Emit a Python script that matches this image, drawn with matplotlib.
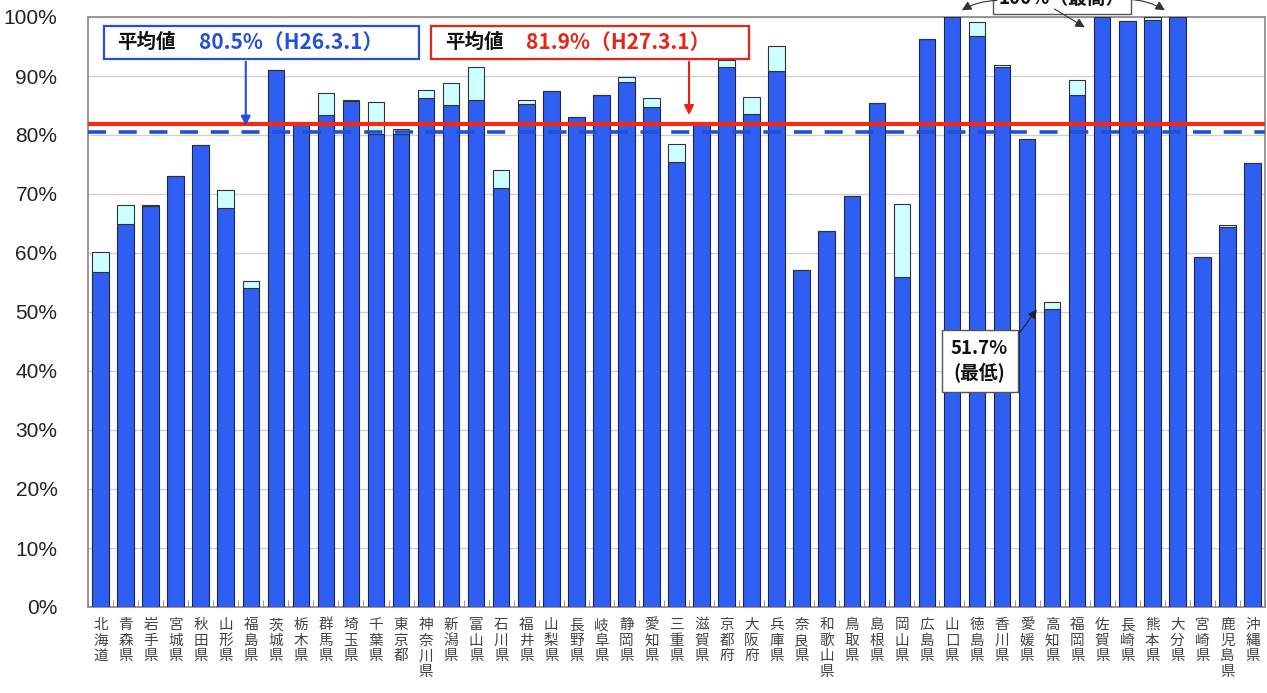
import matplotlib
matplotlib.use("Agg")
import matplotlib.pyplot as plt
from matplotlib.patches import Rectangle
from matplotlib.ticker import MultipleLocator, FixedLocator, PercentFormatter
import numpy as np

plt.rcParams['font.family'] = ['Liberation Sans', 'Noto Sans CJK JP', 'DejaVu Sans']

prefectures = ["北海道", "青森県", "岩手県", "宮城県", "秋田県", "山形県", "福島県", "茨城県",
               "栃木県", "群馬県", "埼玉県", "千葉県", "東京都", "神奈川県", "新潟県", "富山県",
               "石川県", "福井県", "山梨県", "長野県", "岐阜県", "静岡県", "愛知県", "三重県",
               "滋賀県", "京都府", "大阪府", "兵庫県", "奈良県", "和歌山県", "鳥取県", "島根県",
               "岡山県", "広島県", "山口県", "徳島県", "香川県", "愛媛県", "高知県", "福岡県",
               "佐賀県", "長崎県", "熊本県", "大分県", "宮崎県", "鹿児島県", "沖縄県"]

h26 = [56.7, 64.9, 67.9, 73.0, 78.3, 67.6, 54.1, 91.1, 81.8, 83.4, 85.8, 80.2, 80.2, 86.2,
       85.1, 86.0, 71.1, 85.2, 87.5, 83.0, 86.8, 89.0, 84.7, 75.4, 81.8, 91.6, 83.5, 90.9,
       57.2, 63.7, 69.7, 85.4, 55.9, 96.3, 100.0, 96.7, 91.5, 79.3, 50.5, 86.8, 100.0, 99.3,
       99.5, 100.0, 59.4, 64.4, 75.3]

h27 = [60.2, 68.1, 68.1, 73.0, 78.3, 70.7, 55.3, 91.1, 81.8, 87.2, 86.0, 85.6, 81.1, 87.7,
       88.8, 91.5, 74.1, 86.0, 87.5, 83.0, 86.8, 89.9, 86.3, 78.4, 81.8, 92.7, 86.5, 95.0,
       57.2, 63.7, 69.7, 85.4, 68.3, 96.3, 100.0, 99.1, 91.9, 79.3, 51.7, 89.3, 100.0, 99.3,
       100.0, 100.0, 59.4, 64.7, 75.3]

avg_h26 = 80.5
avg_h27 = 81.9
label_h26 = "80.5%（H26.3.1）"
label_h27 = "81.9%（H27.3.1）"
label_avg = "平均値"
label_max = "100%（最高）"
label_min = "51.7%\n(最低)"
min_index = 38
max_indices = [34, 40, 43]

blue = '#2F5FF2'
cyan = '#CCFFFF'
red = '#F42A14'
dblue = '#1E50D2'

fig = plt.figure(figsize=(12.67, 6.93), dpi=100)
ax = fig.add_axes([88/1267, 1-607/693, (1265-88)/1267, (607-17)/693])

x = np.arange(len(prefectures))
inc = np.array(h27) - np.array(h26)
ax.bar(x, h26, width=0.66, color=blue, edgecolor='#222244', linewidth=0.8, zorder=3)
ax.bar(x, inc, bottom=h26, width=0.66, color=cyan, edgecolor='#333333', linewidth=0.8, zorder=3)

ax.axhline(avg_h26, color=dblue, lw=2.6, ls=(0, (5, 3.5)), zorder=4)
ax.axhline(avg_h27, color=red, lw=3.0, zorder=5)

ax.set_xlim(-0.5, len(prefectures) - 0.5)
ax.set_ylim(0, 100)
ax.yaxis.set_major_locator(MultipleLocator(10))
ax.yaxis.set_major_formatter(PercentFormatter(decimals=0))
ax.grid(axis='y', color='#D0D0D0', lw=1.0, zorder=0)
ax.tick_params(axis='y', length=0, labelsize=15, pad=22, labelcolor='#222222')

ax.set_xticks(x)
ax.set_xticklabels(['\n'.join(p) for p in prefectures], fontsize=10.5, color='#444444',
                   linespacing=1.15, family=['Noto Sans CJK JP'])
ax.tick_params(axis='x', length=0, pad=8)
ax.xaxis.set_minor_locator(FixedLocator(np.arange(-0.5, len(prefectures), 1.0)))
ax.tick_params(axis='x', which='minor', direction='in', length=5, color='#888888')
for s in ax.spines.values():
    s.set_color('#888888')
    s.set_linewidth(1.2)

# Average value boxes
def avg_box(x0, x1, color, value_text, arrow_x, arrow_y):
    ax.add_patch(Rectangle((x0, 92.9), x1 - x0, 5.6, facecolor='white', edgecolor=color,
                           lw=1.6, zorder=6, clip_on=False))
    ax.text(x0 + 0.55, 95.7, label_avg, fontsize=14, fontweight='bold', color='#111111',
            va='center', ha='left', zorder=7, family=['Noto Sans CJK JP'])
    ax.text(x0 + 3.8, 95.7, value_text, fontsize=15, fontweight='bold', color=color,
            va='center', ha='left', zorder=7, family=['Noto Sans CJK JP'])
    ax.annotate('', xy=(arrow_x, arrow_y), xytext=(arrow_x, 92.9),
                arrowprops=dict(arrowstyle='-|>', color=color, lw=1.5, mutation_scale=14),
                zorder=7)

avg_box(0.12, 12.72, '#2350D8', label_h26, 5.8, avg_h26 + 0.6)
avg_box(13.2, 25.88, '#E8231A', label_h27, 23.5, avg_h27 + 1.0)

# Minimum annotation
ax.text(35.1, 41.7, label_min, fontsize=13.5, fontweight='bold', ha='center', va='center',
        color='#111111', linespacing=1.3, zorder=8, family=['Noto Sans CJK JP'],
        bbox=dict(boxstyle='square,pad=0.5', facecolor='white', edgecolor='#555555', lw=1.0))
ax.annotate('', xy=(min_index - 0.55, h27[min_index] - 0.9), xytext=(36.6, 45.9),
            arrowprops=dict(arrowstyle='-|>', color='#222222', lw=0.8, mutation_scale=13),
            zorder=8)

# Maximum annotation (partly outside the figure, as in the source)
ax.text(38.4, 103.1, label_max, fontsize=13.5, fontweight='bold', ha='center', va='center',
        color='#111111', zorder=8, clip_on=False, family=['Noto Sans CJK JP'],
        bbox=dict(boxstyle='square,pad=0.3', facecolor='white', edgecolor='#555555', lw=1.0))
ax.annotate('', xy=(max_indices[0] + 0.3, 100.9), xytext=(35.9, 102.8),
            arrowprops=dict(arrowstyle='-|>', color='#333333', lw=0.8, mutation_scale=14,
                            connectionstyle='arc3,rad=0.15'),
            zorder=8, annotation_clip=False)
ax.annotate('', xy=(max_indices[1] - 0.6, 98.0), xytext=(38.0, 101.6),
            arrowprops=dict(arrowstyle='-|>', color='#333333', lw=0.8, mutation_scale=14),
            zorder=8, annotation_clip=False)
ax.annotate('', xy=(max_indices[2] - 0.4, 100.9), xytext=(40.9, 103.0),
            arrowprops=dict(arrowstyle='-|>', color='#333333', lw=0.8, mutation_scale=14,
                            connectionstyle='arc3,rad=-0.15'),
            zorder=8, annotation_clip=False)

fig.savefig('out.png', dpi=100)
